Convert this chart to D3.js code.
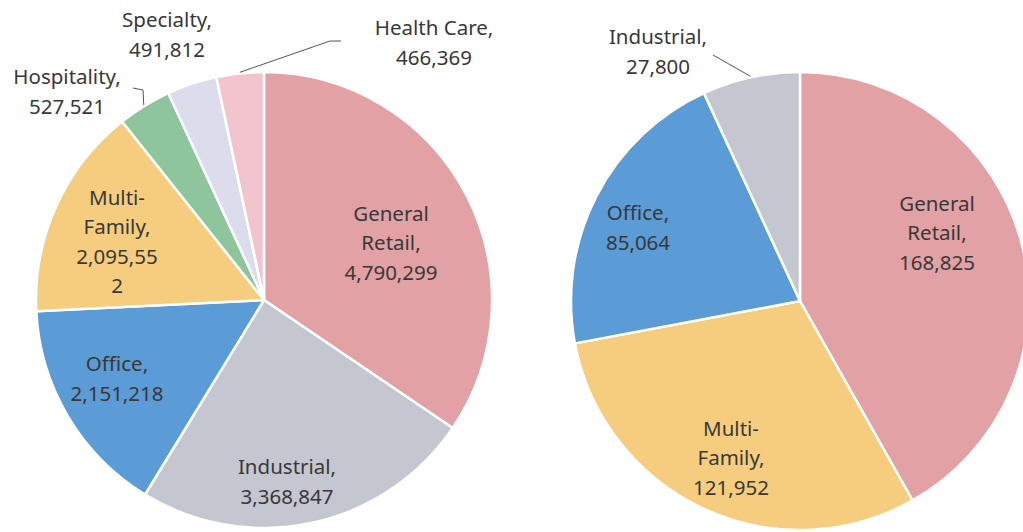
<!DOCTYPE html>
<html>
<head>
<meta charset="utf-8">
<script src="https://cdn.jsdelivr.net/npm/d3@7"></script>
<style>
  html, body { margin: 0; padding: 0; background: #fff; }
  svg { display: block; }
  text { font-family: "Noto Sans", "Open Sans", sans-serif; fill: #383838; }
</style>
</head>
<body>
<div id="chart"></div>
<script>
// left pie values
const leftCategories = ["General Retail", "Industrial", "Office", "Multi-Family", "Hospitality", "Specialty", "Health Care"];
const leftValues = [4790299, 3368847, 2151218, 2095552, 527521, 491812, 466369];

// right pie values
const rightCategories = ["General Retail", "Multi-Family", "Office", "Industrial"];
const rightValues = [168825, 121952, 85064, 27800];

const colors = {
    "General Retail": "#E2A1A4",
    "Industrial": "#C4C7D0",
    "Office": "#5B9BD6",
    "Multi-Family": "#F6CD7E",
    "Hospitality": "#8EC59C",
    "Specialty": "#DCDDEC",
    "Health Care": "#F1C4CE"
};

const width = 1023;
const height = 532;
const fontSize = 20.5;
const lineHeight = 29.5;

// label centres relative to the pie centre, wrap width, leader elbows
const leftLayout = {
    cx: 264, cy: 300, r: 228,
    labels: {
        "General Retail": { dx: 127, dy: -57, w: 115 },
        "Industrial": { dx: 23, dy: 182, w: 130 },
        "Office": { dx: -147, dy: 79, w: 120 },
        "Multi-Family": { dx: -147, dy: -58, w: 86 },
        "Hospitality": { dx: -197, dy: -208, w: 135 },
        "Specialty": { dx: -97, dy: -265, w: 120 },
        "Health Care": { dx: 170, dy: -257, w: 145 }
    },
    leaders: {
        "Hospitality": [[-121, -210], [-131, -212]],
        "Health Care": [[66, -259], [77, -259]]
    }
};

const rightLayout = {
    cx: 800, cy: 301, r: 229,
    labels: {
        "General Retail": { dx: 137, dy: -68, w: 110 },
        "Multi-Family": { dx: -69, dy: 157, w: 95 },
        "Office": { dx: -162, dy: -73, w: 110 },
        "Industrial": { dx: -142, dy: -249, w: 130 }
    },
    leaders: {
        "Industrial": [[-87, -246]]
    }
};

const svg = d3.select("#chart")
    .append("svg")
    .attr("width", width)
    .attr("height", height);

const fmt = d3.format(",");

// greedy wrap of a label into lines no wider than maxW
function wrapLabel(textSel, str, maxW) {
    const tokens = str.match(/[^\s-]+-?\s*|\s+/g);
    const probe = textSel.append("tspan");
    const measure = s => { probe.text(s.trim()); return probe.node().getComputedTextLength(); };
    const lines = [];
    let cur = "";
    tokens.forEach(tok => {
        const trial = cur + tok;
        if (cur === "" || measure(trial) <= maxW) {
            cur = trial;
        } else {
            lines.push(cur.trim());
            cur = tok;
        }
    });
    if (cur.trim() !== "") lines.push(cur.trim());
    // break words that are still too wide, character by character
    const out = [];
    lines.forEach(line => {
        if (measure(line) <= maxW) { out.push(line); return; }
        let part = "";
        for (const ch of line) {
            if (part !== "" && measure(part + ch) > maxW) { out.push(part); part = ch; }
            else part += ch;
        }
        if (part) out.push(part);
    });
    probe.remove();
    return out;
}

function drawPie(categories, values, layout) {
    const data = categories.map((c, i) => ({ name: c, value: values[i] }));
    const pie = d3.pie().sort(null).value(d => d.value);
    const arcs = pie(data);
    const arc = d3.arc().innerRadius(0).outerRadius(layout.r);

    const g = svg.append("g")
        .attr("transform", `translate(${layout.cx},${layout.cy})`);

    g.append("g")
        .selectAll("path")
        .data(arcs)
        .enter().append("path")
        .attr("d", arc)
        .attr("fill", d => colors[d.data.name])
        .attr("stroke", "#fff")
        .attr("stroke-width", 2.5)
        .attr("stroke-linejoin", "round");

    // leader lines
    arcs.forEach(d => {
        const pts = layout.leaders[d.data.name];
        if (!pts) return;
        const mid = (d.startAngle + d.endAngle) / 2;
        const start = [Math.sin(mid) * (layout.r + 1), -Math.cos(mid) * (layout.r + 1)];
        g.append("path")
            .attr("d", d3.line()([start, ...pts]))
            .attr("fill", "none")
            .attr("stroke", "#555")
            .attr("stroke-width", 1);
    });

    // labels
    arcs.forEach(d => {
        const lay = layout.labels[d.data.name];
        const t = g.append("text")
            .attr("text-anchor", "middle")
            .attr("font-size", fontSize + "px");
        const lines = wrapLabel(t, d.data.name + ", " + fmt(d.data.value), lay.w);
        const top = lay.dy - (lines.length - 1) * lineHeight / 2;
        lines.forEach((line, i) => {
            t.append("tspan")
                .attr("x", lay.dx)
                .attr("y", top + i * lineHeight)
                .attr("dy", "0.35em")
                .text(line);
        });
    });
}

drawPie(leftCategories, leftValues, leftLayout);
drawPie(rightCategories, rightValues, rightLayout);
</script>
</body>
</html>
